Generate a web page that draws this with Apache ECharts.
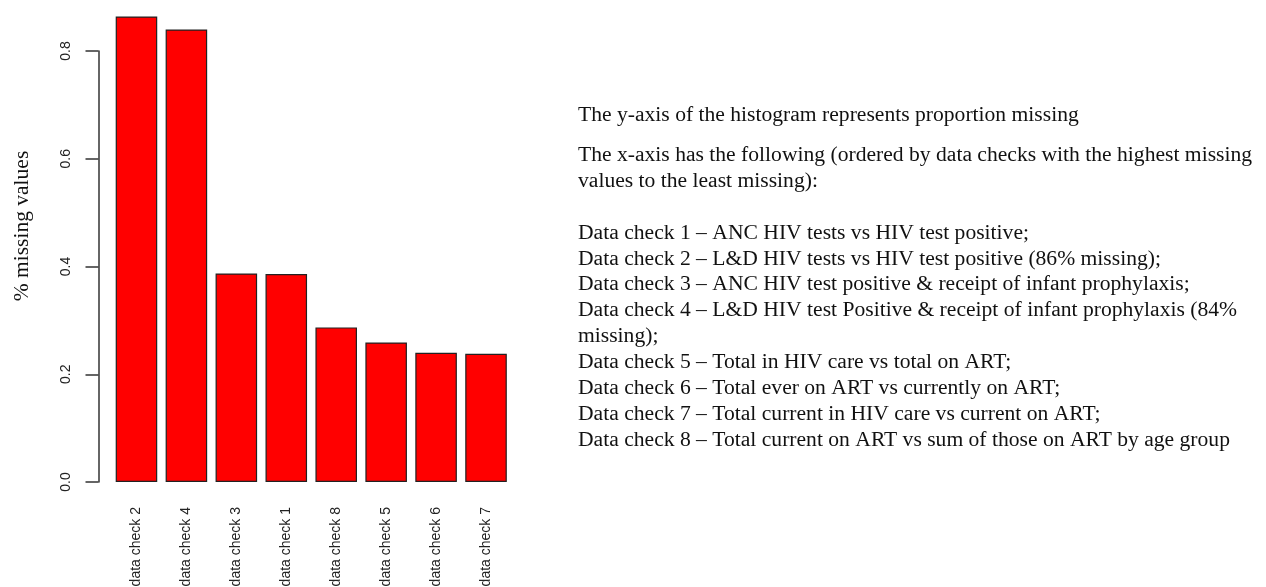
<!DOCTYPE html>
<html>
<head>
<meta charset="utf-8">
<script src="https://cdn.jsdelivr.net/npm/echarts@6/dist/echarts.min.js"></script>
<style>
html, body { margin: 0; padding: 0; background: #fff; }
#main { width: 1266px; height: 587px; }
</style>
</head>
<body>
<div id="main"></div>
<script>
// bars, in the order of the plot (highest missing first)
var categories = ['data check 2', 'data check 4', 'data check 3', 'data check 1',
                  'data check 8', 'data check 5', 'data check 6', 'data check 7'];
var missing = [0.864, 0.840, 0.387, 0.386, 0.287, 0.259, 0.240, 0.238];
var yLabel = '% missing values';

// notes on the right
var noteIntro = ['The y-axis of the histogram represents proportion missing'];
var noteAxis = ['The x-axis has the following (ordered by data checks with the highest missing',
                'values to the least missing):'];
var noteChecks = [
    'Data check 1 \u2013 ANC HIV tests vs HIV test positive;',
    'Data check 2 \u2013 L&D HIV tests vs HIV test positive (86% missing);',
    'Data check 3 \u2013 ANC HIV test positive & receipt of infant prophylaxis;',
    'Data check 4 \u2013 L&D HIV test Positive & receipt of infant prophylaxis (84%',
    'missing);',
    'Data check 5 \u2013 Total in HIV care vs total on ART;',
    'Data check 6 \u2013 Total ever on ART vs currently on ART;',
    'Data check 7 \u2013 Total current in HIV care vs current on ART;',
    'Data check 8 \u2013 Total current on ART vs sum of those on ART by age group'
];

var myChart = echarts.init(document.getElementById('main'));

var sans = '"Liberation Sans", Arial, sans-serif';
var serif = '"Liberation Serif", "Times New Roman", serif';
var lh = 25.9;

function noteBlock(lines, centerY) {
    return {
        type: 'text',
        x: 578,
        y: centerY - lh / 2,
        style: {
            text: lines.join('\n'),
            font: '21.6px ' + serif,
            fill: '#111',
            lineHeight: lh,
            textAlign: 'left',
            textVerticalAlign: 'top'
        }
    };
}

var option = {
    backgroundColor: '#fff',
    animation: false,
    grid: {
        left: 111.5,
        right: 755,
        top: 51,
        bottom: 105,
        outerBoundsMode: 'none'
    },
    xAxis: {
        type: 'category',
        data: categories,
        axisLine: { show: false },
        axisTick: { show: false },
        axisLabel: {
            interval: 0,
            rotate: 90,
            margin: 25,
            fontFamily: sans,
            fontSize: 14,
            color: '#222'
        }
    },
    yAxis: {
        type: 'value',
        min: 0,
        max: 0.8,
        interval: 0.2,
        offset: 13,
        splitLine: { show: false },
        axisLine: { show: true, lineStyle: { color: '#333', width: 1.5 } },
        axisTick: { show: true, length: 13, lineStyle: { color: '#333', width: 1.5 } },
        axisLabel: {
            rotate: 90,
            margin: 25,
            fontFamily: sans,
            fontSize: 14,
            color: '#222',
            formatter: function (v) { return v.toFixed(1); }
        }
    },
    series: [{
        type: 'bar',
        data: missing,
        clip: false,
        barCategoryGap: '16.8%',
        itemStyle: {
            color: '#ff0000',
            borderColor: '#222',
            borderWidth: 1.2
        }
    }],
    graphic: [
        {
            type: 'text',
            x: 22,
            y: 226,
            rotation: Math.PI / 2,
            style: {
                text: yLabel,
                font: '21.5px ' + serif,
                fill: '#111',
                textAlign: 'center',
                textVerticalAlign: 'middle'
            }
        },
        noteBlock(noteIntro, 115),
        noteBlock(noteAxis, 155),
        noteBlock(noteChecks, 233)
    ]
};

myChart.setOption(option);
</script>
</body>
</html>
